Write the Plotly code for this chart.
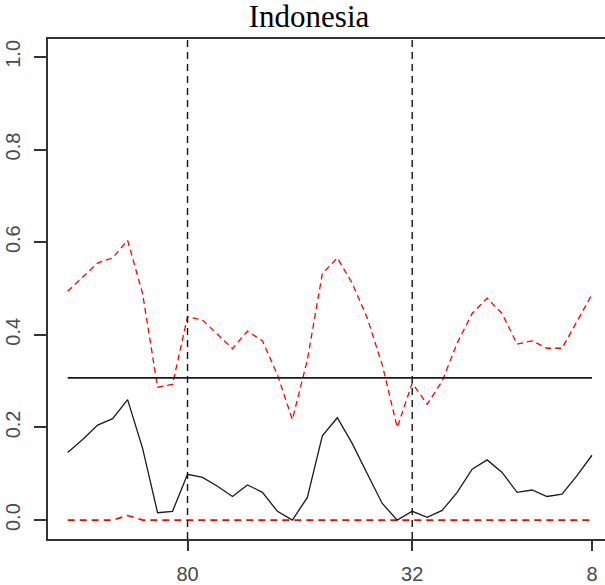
import plotly.graph_objects as go

# Positions along the horizontal axis (1..36) and the labelled ticks
positions = list(range(1, 37))
tick_positions = [9, 24, 36]
tick_labels = ["80", "32", "8"]
marker_positions = [9, 24]

# Estimated statistic (solid black)
estimate = [0.146, 0.174, 0.205, 0.219, 0.260, 0.155, 0.016, 0.019, 0.099, 0.092,
            0.073, 0.051, 0.076, 0.060, 0.019, 0.000, 0.049, 0.182, 0.221, 0.165,
            0.100, 0.036, 0.000, 0.019, 0.006, 0.021, 0.060, 0.110, 0.130, 0.103,
            0.060, 0.065, 0.051, 0.056, 0.096, 0.140]

# Upper band (red dashed)
upper = [0.494, 0.525, 0.555, 0.566, 0.604, 0.489, 0.287, 0.293, 0.439, 0.432,
         0.400, 0.370, 0.408, 0.387, 0.314, 0.217, 0.346, 0.532, 0.566, 0.511,
         0.436, 0.335, 0.200, 0.296, 0.250, 0.300, 0.382, 0.446, 0.479, 0.446,
         0.380, 0.387, 0.371, 0.371, 0.429, 0.487]

# Lower band (red dashed)
lower = [0.0, 0.0, 0.0, 0.0, 0.010, 0.0, 0.0, 0.0, 0.0, 0.0,
         0.0, 0.0, 0.0, 0.0, 0.0, 0.0, 0.0, 0.0, 0.0, 0.0,
         0.0, 0.0, 0.0, 0.0, 0.0, 0.0, 0.0, 0.0, 0.0, 0.0,
         0.0, 0.0, 0.0, 0.0, 0.0, 0.0]

# Reference level (solid black horizontal)
reference_level = 0.307

y_ticks = [0.0, 0.2, 0.4, 0.6, 0.8, 1.0]

W, H = 605, 585
L, R, T, B = 48, 0, 39, 43

fig = go.Figure()

fig.add_trace(go.Scatter(x=positions, y=upper, mode="lines",
                         line=dict(color="#ff0000", width=1.3, dash="6px,4px")))
fig.add_trace(go.Scatter(x=positions, y=lower, mode="lines",
                         line=dict(color="#ff0000", width=1.6, dash="7px,5px")))
fig.add_trace(go.Scatter(x=positions, y=[reference_level] * len(positions), mode="lines",
                         line=dict(color="#1a1a1a", width=1.6)))
fig.add_trace(go.Scatter(x=positions, y=estimate, mode="lines",
                         line=dict(color="#1a1a1a", width=1.3)))

for xp in marker_positions:
    fig.add_shape(type="line", xref="x", yref="paper", x0=xp, x1=xp, y0=0, y1=1,
                  line=dict(color="#111111", width=1.4, dash="7px,5px"))

tick_font = dict(family="Liberation Sans Narrow, Arial Narrow, Liberation Sans, Arial",
                 size=20, color="#4a4a4a")

fig.update_xaxes(
    range=[-0.315, 36.87],
    tickmode="array", tickvals=tick_positions, ticktext=tick_labels,
    ticks="outside", ticklen=10, tickwidth=1.5, tickcolor="#333333",
    showline=True, linecolor="#333333", linewidth=2, mirror=True,
    showgrid=False, zeroline=False, tickfont=tick_font,
    ticklabelstandoff=6,
)
fig.update_yaxes(
    range=[-0.0408, 1.0386],
    tickmode="array", tickvals=y_ticks, ticktext=[f"{v:.1f}" for v in y_ticks],
    tickangle=-90,
    ticks="outside", ticklen=12, tickwidth=1.5, tickcolor="#333333",
    showline=True, linecolor="#333333", linewidth=2, mirror=False,
    showgrid=False, zeroline=False, tickfont=tick_font,
    ticklabelstandoff=6,
)

fig.update_layout(
    width=W, height=H,
    margin=dict(l=L, r=R, t=T, b=B, pad=0),
    paper_bgcolor="white", plot_bgcolor="white",
    showlegend=False,
    title=dict(text="Indonesia", x=309 / W, xanchor="center", xref="container",
               y=1 - 16 / H, yanchor="middle", yref="container",
               font=dict(family="Liberation Serif, Times New Roman, serif", size=31, color="black")),
)

fig.write_html("out.html")
